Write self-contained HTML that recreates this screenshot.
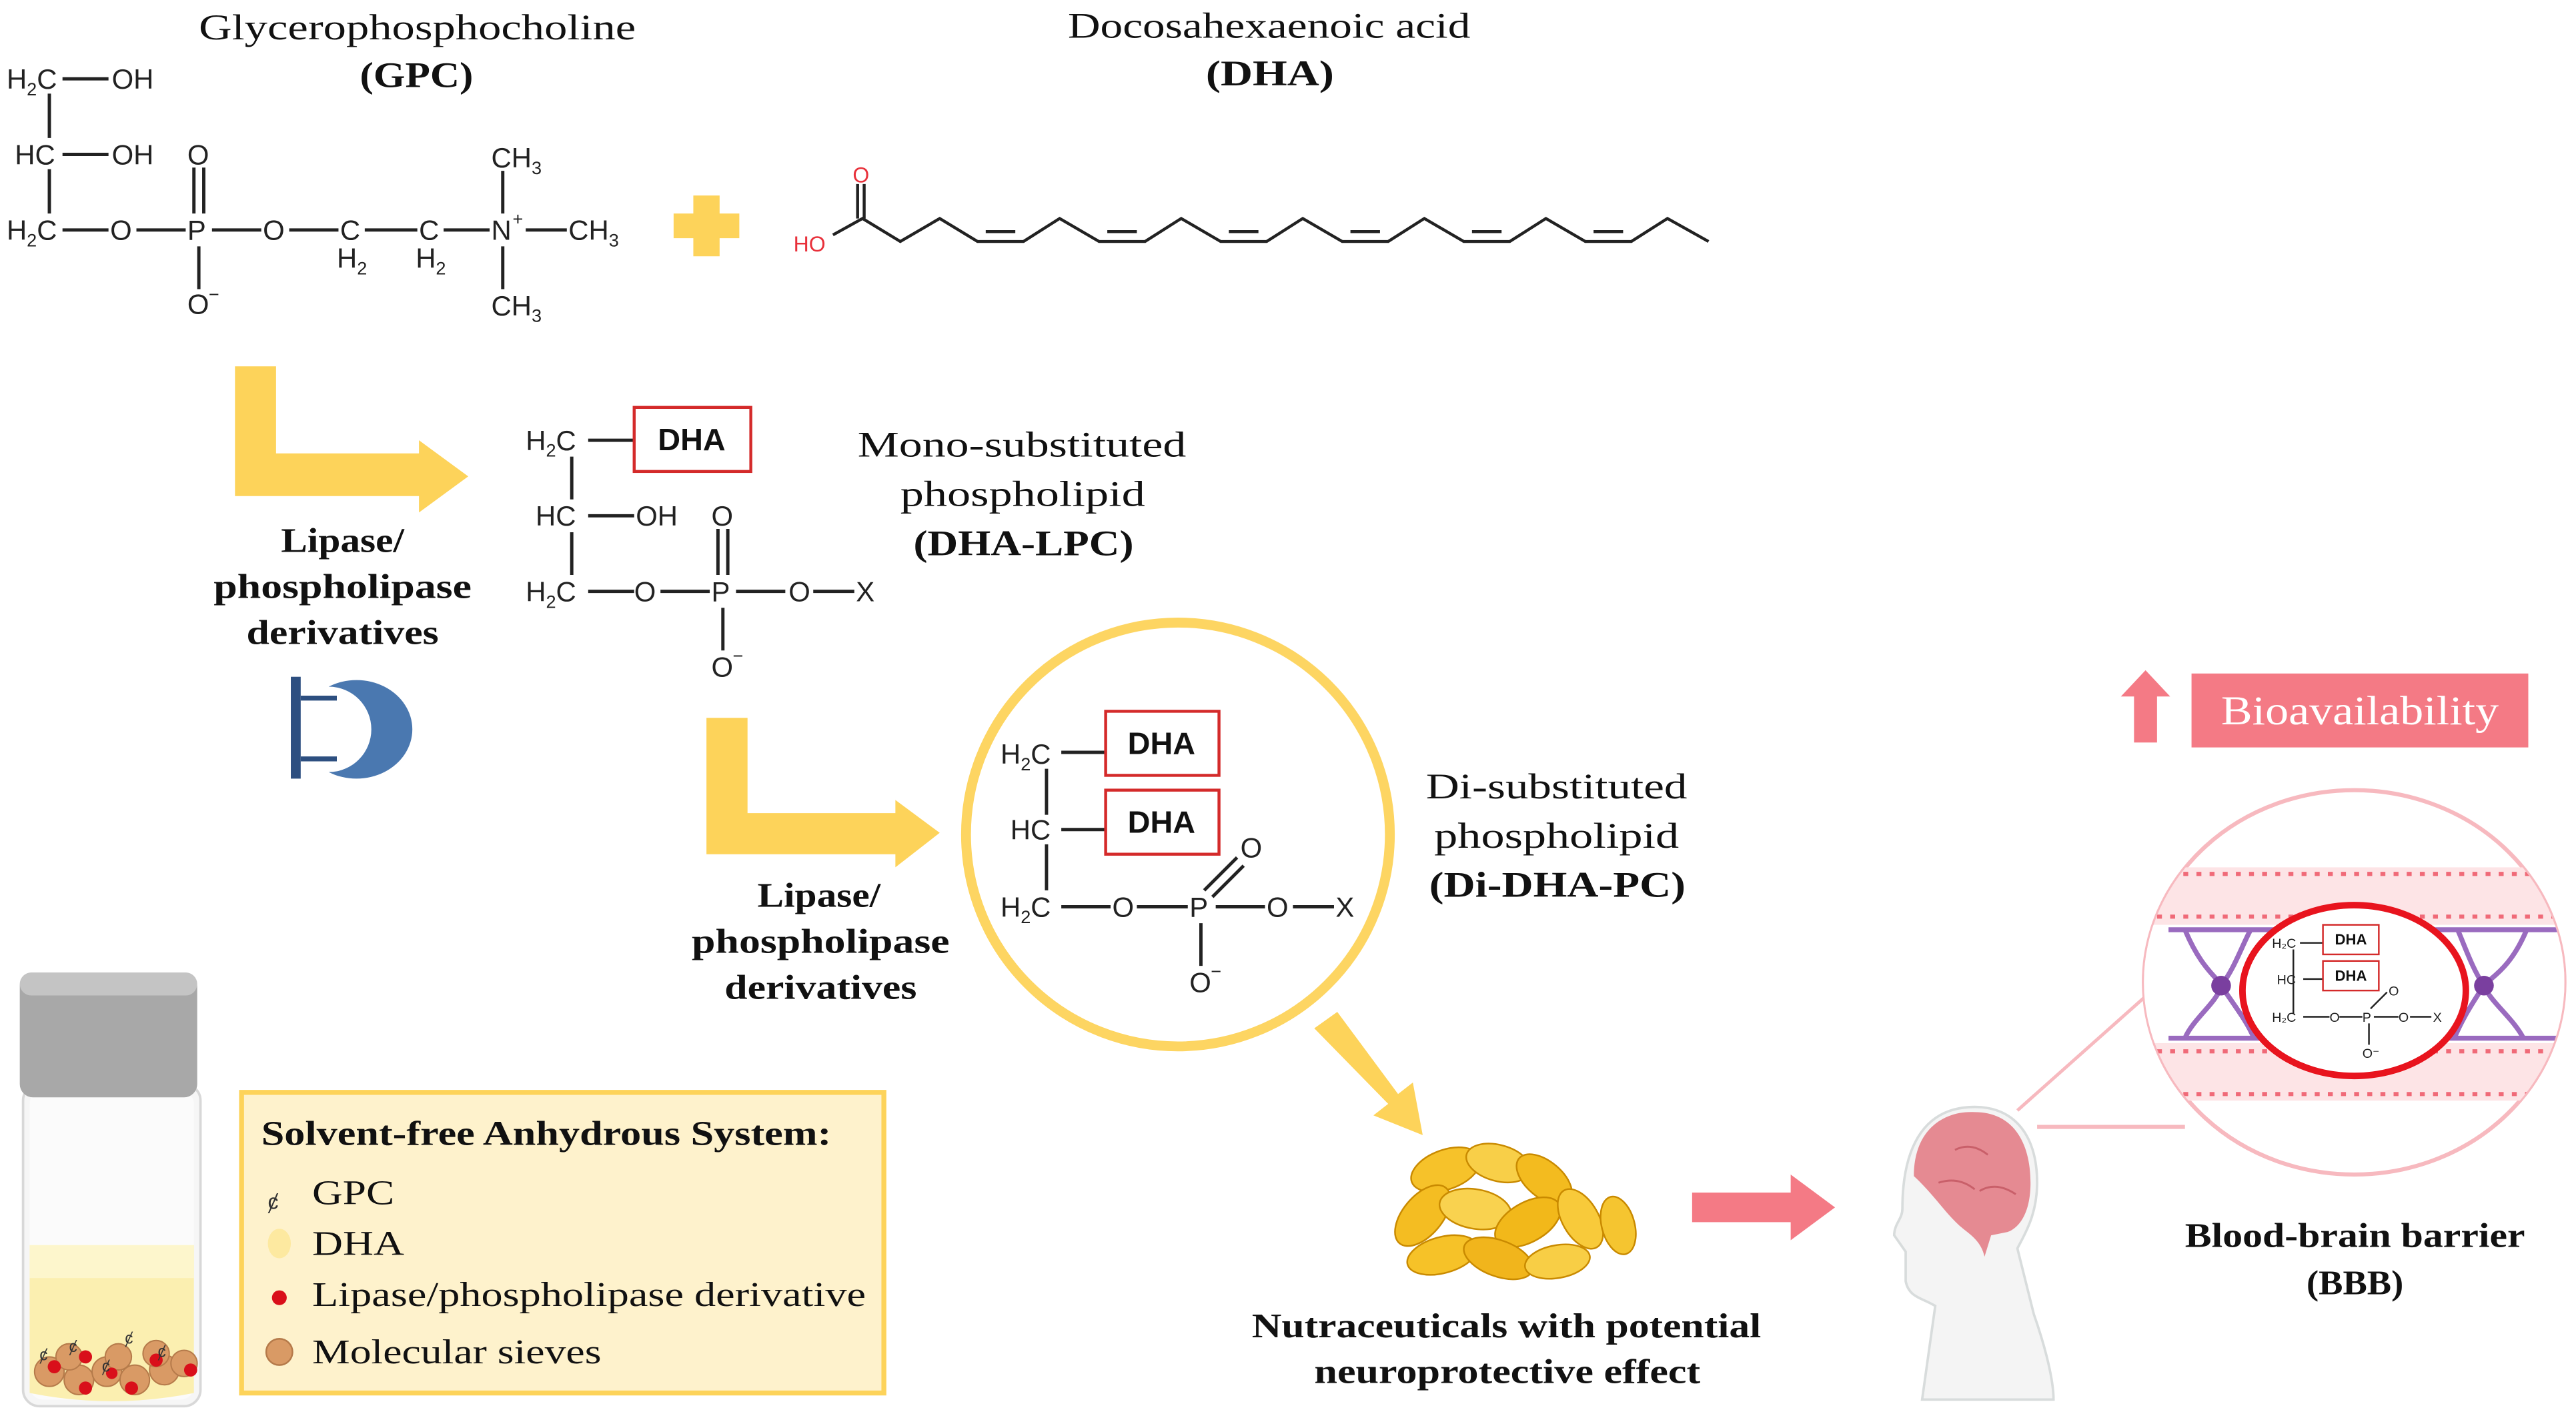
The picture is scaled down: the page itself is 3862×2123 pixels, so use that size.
<!DOCTYPE html>
<html><head><meta charset="utf-8"><style>
html,body{margin:0;padding:0;background:#fff;}
svg{display:block;}
.s{font-family:"Liberation Sans",sans-serif;fill:#222;}
.t{font-family:"Liberation Serif",serif;fill:#111;}
</style></head><body>
<svg width="3862" height="2123" viewBox="0 0 1568 862" xmlns="http://www.w3.org/2000/svg">
<rect width="1568" height="862" fill="#fff"/>

<!-- Titles -->
<g class="t" font-size="22" lengthAdjust="spacingAndGlyphs">
<text x="121" y="24" textLength="266" lengthAdjust="spacingAndGlyphs">Glycerophosphocholine</text>
<text x="219" y="53" font-weight="bold" textLength="69" lengthAdjust="spacingAndGlyphs">(GPC)</text>
<text x="650" y="23" textLength="245" lengthAdjust="spacingAndGlyphs">Docosahexaenoic acid</text>
<text x="734" y="52" font-weight="bold" textLength="78" lengthAdjust="spacingAndGlyphs">(DHA)</text>
</g>

<!-- GPC structure -->
<g stroke="#222" stroke-width="2" fill="none">
<line x1="38" y1="48" x2="66" y2="48"/>
<line x1="30" y1="57" x2="30" y2="84"/>
<line x1="38" y1="94" x2="66" y2="94"/>
<line x1="30" y1="103" x2="30" y2="130"/>
<line x1="38" y1="140" x2="66" y2="140"/>
<line x1="83" y1="140" x2="113" y2="140"/>
<line x1="129" y1="140" x2="159" y2="140"/>
<line x1="176" y1="140" x2="206" y2="140"/>
<line x1="222" y1="140" x2="254" y2="140"/>
<line x1="270" y1="140" x2="298" y2="140"/>
<line x1="320" y1="140" x2="345" y2="140"/>
<line x1="118" y1="102" x2="118" y2="130"/>
<line x1="124" y1="102" x2="124" y2="130"/>
<line x1="121" y1="150" x2="121" y2="176"/>
<line x1="306" y1="104" x2="306" y2="130"/>
<line x1="306" y1="150" x2="306" y2="176"/>
</g>
<g class="s" font-size="17">
<text x="4" y="54">H<tspan font-size="11" dy="4">2</tspan><tspan dy="-4">C</tspan></text>
<text x="68" y="54">OH</text>
<text x="9" y="100">HC</text>
<text x="68" y="100">OH</text>
<text x="4" y="146">H<tspan font-size="11" dy="4">2</tspan><tspan dy="-4">C</tspan></text>
<text x="67" y="146">O</text>
<text x="114" y="146">P</text>
<text x="114" y="100">O</text>
<text x="114" y="191">O</text><text x="127" y="183" font-size="11">−</text>
<text x="160" y="146">O</text>
<text x="207" y="146">C</text>
<text x="205" y="163">H<tspan font-size="11" dy="4">2</tspan></text>
<text x="255" y="146">C</text>
<text x="253" y="163">H<tspan font-size="11" dy="4">2</tspan></text>
<text x="299" y="146">N</text><text x="312" y="137" font-size="11">+</text>
<text x="346" y="146">CH<tspan font-size="11" dy="4">3</tspan></text>
<text x="299" y="102">CH<tspan font-size="11" dy="4">3</tspan></text>
<text x="299" y="192">CH<tspan font-size="11" dy="4">3</tspan></text>
</g>

<!-- plus -->
<path d="M422 119 h16 v11 h12 v15 h-12 v11 h-16 v-11 h-12 v-15 h12 z" fill="#fdd35a"/>

<!-- DHA chain -->
<g stroke="#222" stroke-width="1.8" fill="none">
<polyline points="507,143 525,133 548,147 572,133 595,147 623,147 645,133 669,147 697,147 719,133 743,147 771,147 793,133 817,147 845,147 867,133 891,147 919,147 941,133 965,147 993,147 1015,133 1040,147"/>
<line x1="522" y1="112" x2="522" y2="133"/>
<line x1="526" y1="112" x2="526" y2="133"/>
<line x1="600" y1="141" x2="618" y2="141"/>
<line x1="674" y1="141" x2="692" y2="141"/>
<line x1="748" y1="141" x2="766" y2="141"/>
<line x1="822" y1="141" x2="840" y2="141"/>
<line x1="896" y1="141" x2="914" y2="141"/>
<line x1="970" y1="141" x2="988" y2="141"/>
</g>
<text x="483" y="153" class="s" font-size="13" style="fill:#e8303a">HO</text>
<text x="519" y="111" class="s" font-size="13" style="fill:#e8303a">O</text>

<!-- Arrow 1 -->
<path d="M143 223 h25 v53 h87 v-8 l30 22 l-30 22 v-10 h-112 z" fill="#fdd35a"/>
<g class="t" font-size="21" font-weight="bold">
<text x="171" y="336" textLength="75" lengthAdjust="spacingAndGlyphs">Lipase/</text>
<text x="130" y="364" textLength="157" lengthAdjust="spacingAndGlyphs">phospholipase</text>
<text x="150" y="392" textLength="117" lengthAdjust="spacingAndGlyphs">derivatives</text>
</g>
<!-- enzyme icon -->
<g>
<path d="M200 418 a34 30 0 1 1 0 52 a22 22 0 1 0 0 -52 z" fill="#4a78b0"/>
<rect x="177" y="412" width="6" height="62" fill="#2d4f80"/>
<line x1="183" y1="425" x2="205" y2="425" stroke="#2d4f80" stroke-width="3"/>
<line x1="183" y1="462" x2="205" y2="462" stroke="#2d4f80" stroke-width="3"/>
</g>

<!-- Mono-substituted -->
<g stroke="#222" stroke-width="2" fill="none">
<line x1="358" y1="268" x2="386" y2="268"/>
<line x1="348" y1="278" x2="348" y2="304"/>
<line x1="358" y1="314" x2="386" y2="314"/>
<line x1="348" y1="324" x2="348" y2="350"/>
<line x1="358" y1="360" x2="386" y2="360"/>
<line x1="402" y1="360" x2="432" y2="360"/>
<line x1="448" y1="360" x2="478" y2="360"/>
<line x1="495" y1="360" x2="520" y2="360"/>
<line x1="437" y1="322" x2="437" y2="350"/>
<line x1="443" y1="322" x2="443" y2="350"/>
<line x1="440" y1="370" x2="440" y2="396"/>
</g>
<rect x="386" y="248" width="71" height="39" fill="#fff" stroke="#d42a2a" stroke-width="1.8"/>
<text x="421" y="274" class="s" font-size="19" font-weight="bold" text-anchor="middle" style="fill:#111">DHA</text>
<g class="s" font-size="17">
<text x="320" y="274">H<tspan font-size="11" dy="4">2</tspan><tspan dy="-4">C</tspan></text>
<text x="326" y="320">HC</text>
<text x="387" y="320">OH</text>
<text x="320" y="366">H<tspan font-size="11" dy="4">2</tspan><tspan dy="-4">C</tspan></text>
<text x="386" y="366">O</text>
<text x="433" y="366">P</text>
<text x="433" y="320">O</text>
<text x="480" y="366">O</text>
<text x="521" y="366">X</text>
<text x="433" y="412">O</text><text x="446" y="403" font-size="11">−</text>
</g>
<g class="t" font-size="22">
<text x="522" y="278" textLength="200" lengthAdjust="spacingAndGlyphs">Mono-substituted</text>
<text x="548" y="308" textLength="149" lengthAdjust="spacingAndGlyphs">phospholipid</text>
<text x="556" y="338" font-weight="bold" textLength="134" lengthAdjust="spacingAndGlyphs">(DHA-LPC)</text>
</g>

<!-- Arrow 2 -->
<path d="M430 437 h25 v58 h90 v-8 l27 20 l-27 21 v-8 h-115 z" fill="#fdd35a"/>
<g class="t" font-size="21" font-weight="bold">
<text x="461" y="552" textLength="75" lengthAdjust="spacingAndGlyphs">Lipase/</text>
<text x="421" y="580" textLength="157" lengthAdjust="spacingAndGlyphs">phospholipase</text>
<text x="441" y="608" textLength="117" lengthAdjust="spacingAndGlyphs">derivatives</text>
</g>

<!-- Circle Di-DHA -->
<circle cx="717" cy="508" r="129" fill="#fff" stroke="#fdd35a" stroke-width="6" opacity="0.95"/>
<g stroke="#222" stroke-width="2" fill="none">
<line x1="646" y1="458" x2="673" y2="458"/>
<line x1="637" y1="468" x2="637" y2="496"/>
<line x1="646" y1="505" x2="673" y2="505"/>
<line x1="637" y1="514" x2="637" y2="542"/>
<line x1="646" y1="552" x2="676" y2="552"/>
<line x1="692" y1="552" x2="723" y2="552"/>
<line x1="740" y1="552" x2="770" y2="552"/>
<line x1="787" y1="552" x2="812" y2="552"/>
<line x1="733" y1="542" x2="753" y2="522"/>
<line x1="738" y1="546" x2="757" y2="527"/>
<line x1="731" y1="562" x2="731" y2="588"/>
</g>
<rect x="673" y="433" width="69" height="39" fill="#fff" stroke="#d42a2a" stroke-width="1.8"/>
<rect x="673" y="481" width="69" height="39" fill="#fff" stroke="#d42a2a" stroke-width="1.8"/>
<g class="s" font-size="19" font-weight="bold" text-anchor="middle" style="fill:#111">
<text x="707" y="459">DHA</text><text x="707" y="507">DHA</text>
</g>
<g class="s" font-size="17">
<text x="609" y="465">H<tspan font-size="11" dy="4">2</tspan><tspan dy="-4">C</tspan></text>
<text x="615" y="511">HC</text>
<text x="609" y="558">H<tspan font-size="11" dy="4">2</tspan><tspan dy="-4">C</tspan></text>
<text x="677" y="558">O</text>
<text x="724" y="558">P</text>
<text x="755" y="522">O</text>
<text x="771" y="558">O</text>
<text x="813" y="558">X</text>
<text x="724" y="604">O</text><text x="737" y="595" font-size="11">−</text>
</g>
<g class="t" font-size="22">
<text x="868" y="486" textLength="159" lengthAdjust="spacingAndGlyphs">Di-substituted</text>
<text x="873" y="516" textLength="149" lengthAdjust="spacingAndGlyphs">phospholipid</text>
<text x="870" y="546" font-weight="bold" textLength="156" lengthAdjust="spacingAndGlyphs">(Di-DHA-PC)</text>
</g>

<!-- diagonal arrow -->
<path d="M800 626 l14 -10 l37 50 l9 -7 l6 32 l-30 -12 l9 -7 z" fill="#fdd35a"/>

<!-- capsules -->
<g stroke="#c98a00" stroke-width="1">
<ellipse cx="880" cy="712" rx="22" ry="12" fill="#f6c22a" transform="rotate(-20 880 712)"/>
<ellipse cx="912" cy="708" rx="20" ry="11" fill="#f8cf48" transform="rotate(15 912 708)"/>
<ellipse cx="940" cy="718" rx="20" ry="11" fill="#f3bb1f" transform="rotate(40 940 718)"/>
<ellipse cx="866" cy="740" rx="22" ry="12" fill="#f4bd22" transform="rotate(-50 866 740)"/>
<ellipse cx="898" cy="736" rx="22" ry="12" fill="#f9d24f" transform="rotate(10 898 736)"/>
<ellipse cx="930" cy="744" rx="22" ry="12" fill="#f2b81a" transform="rotate(-30 930 744)"/>
<ellipse cx="962" cy="742" rx="20" ry="11" fill="#f8ca3a" transform="rotate(60 962 742)"/>
<ellipse cx="985" cy="746" rx="18" ry="10" fill="#f5c530" transform="rotate(75 985 746)"/>
<ellipse cx="878" cy="764" rx="22" ry="11" fill="#f6c228" transform="rotate(-15 878 764)"/>
<ellipse cx="912" cy="766" rx="22" ry="11" fill="#f1b51c" transform="rotate(20 912 766)"/>
<ellipse cx="948" cy="768" rx="20" ry="10" fill="#f8ce45" transform="rotate(-10 948 768)"/>
</g>
<g class="t" font-size="21" font-weight="bold">
<text x="762" y="814" textLength="310" lengthAdjust="spacingAndGlyphs">Nutraceuticals with potential</text>
<text x="800" y="842" textLength="235" lengthAdjust="spacingAndGlyphs">neuroprotective effect</text>
</g>

<!-- pink arrow -->
<path d="M1030 726 h60 v-11 l27 20 l-27 20 v-11 h-60 z" fill="#f47a85"/>

<!-- head -->
<path d="M1198 674 C1225 672 1240 690 1240 720 C1240 740 1232 752 1228 760 L1238 800 C1245 820 1250 840 1250 852 L1170 852 L1178 795 C1170 790 1162 790 1160 780 L1160 762 L1153 752 C1153 745 1158 742 1158 736 C1158 700 1170 676 1198 674 Z" fill="#f4f4f4" stroke="#d8dcdc" stroke-width="1.5"/>
<path d="M1165 716 C1165 686 1185 676 1202 677 C1225 677 1236 695 1236 720 C1236 740 1228 748 1222 750 L1212 752 L1208 765 C1206 756 1200 752 1195 748 C1185 740 1178 728 1165 716 Z" fill="#e58a92"/>
<path d="M1190 700 q10 -5 20 3 M1180 720 q12 -4 22 4 M1205 725 q10 -6 22 2" stroke="#c9606a" stroke-width="1.2" fill="none"/>

<!-- BBB zoom lines -->
<line x1="1228" y1="676" x2="1310" y2="603" stroke="#f7b9bf" stroke-width="2"/>
<line x1="1240" y1="686" x2="1330" y2="686" stroke="#f7b9bf" stroke-width="2.5"/>

<!-- BBB circle -->
<defs><clipPath id="bc"><ellipse cx="1433" cy="598" rx="128" ry="117"/></clipPath></defs>
<ellipse cx="1433" cy="598" rx="128" ry="117" fill="#fff" stroke="#f7b9bf" stroke-width="2.5"/>
<g clip-path="url(#bc)">
<rect x="1305" y="528" width="256" height="142" fill="#fde4e6"/>
<rect x="1305" y="563" width="256" height="72" fill="#fff"/>
<g stroke="#f06a78" stroke-width="2.5" stroke-dasharray="3 5">
<line x1="1305" y1="532" x2="1561" y2="532"/>
<line x1="1305" y1="558" x2="1561" y2="558"/>
<line x1="1305" y1="640" x2="1561" y2="640"/>
<line x1="1305" y1="666" x2="1561" y2="666"/>
</g>
<g stroke="#9a6bbf" stroke-width="3" fill="none">
<line x1="1320" y1="566" x2="1560" y2="566"/>
<line x1="1320" y1="632" x2="1560" y2="632"/>
<path d="M1330 566 C1340 590 1350 595 1352 600 C1350 610 1335 620 1330 632 M1352 600 C1360 590 1365 575 1370 566 M1352 600 C1360 612 1368 622 1372 632"/>
<path d="M1538 566 C1528 590 1516 595 1512 600 C1516 610 1530 620 1536 632 M1512 600 C1505 590 1500 575 1496 566 M1512 600 C1504 612 1498 622 1494 632"/>
</g>
<circle cx="1352" cy="600" r="6" fill="#7a3f9f"/>
<circle cx="1512" cy="600" r="6" fill="#7a3f9f"/>
</g>
<ellipse cx="1433" cy="603" rx="68" ry="52" fill="#fff" stroke="#e8141e" stroke-width="4"/>
<g stroke="#222" stroke-width="1" fill="none">
<line x1="1400" y1="574" x2="1414" y2="574"/>
<line x1="1396" y1="578" x2="1396" y2="617"/>
<line x1="1402" y1="596" x2="1414" y2="596"/>
<line x1="1402" y1="619" x2="1418" y2="619"/>
<line x1="1424" y1="619" x2="1438" y2="619"/>
<line x1="1445" y1="619" x2="1460" y2="619"/>
<line x1="1467" y1="619" x2="1480" y2="619"/>
<line x1="1443" y1="614" x2="1453" y2="604"/>
<line x1="1442" y1="623" x2="1442" y2="636"/>
</g>
<rect x="1414" y="563" width="34" height="18" fill="#fff" stroke="#d42a2a" stroke-width="1"/>
<rect x="1414" y="585" width="34" height="18" fill="#fff" stroke="#d42a2a" stroke-width="1"/>
<g class="s" font-size="9" font-weight="bold" text-anchor="middle" style="fill:#111">
<text x="1431" y="575">DHA</text><text x="1431" y="597">DHA</text>
</g>
<g class="s" font-size="8">
<text x="1383" y="577">H₂C</text><text x="1386" y="599">HC</text><text x="1383" y="622">H₂C</text>
<text x="1418" y="622">O</text><text x="1438" y="622">P</text><text x="1454" y="606">O</text>
<text x="1460" y="622">O</text><text x="1481" y="622">X</text><text x="1438" y="644">O⁻</text>
</g>

<!-- Bioavailability -->
<path d="M1306 408 l15 16 h-8 v28 h-14 v-28 h-8 z" fill="#f47a85"/>
<rect x="1334" y="410" width="205" height="45" fill="#f47a85"/>
<text x="1352" y="441" class="t" font-size="25" textLength="169" lengthAdjust="spacingAndGlyphs" style="fill:#fff">Bioavailability</text>

<g class="t" font-size="21" font-weight="bold">
<text x="1330" y="759" textLength="207" lengthAdjust="spacingAndGlyphs">Blood-brain barrier</text>
<text x="1404" y="788" textLength="59" lengthAdjust="spacingAndGlyphs">(BBB)</text>
</g>

<!-- Vial -->
<rect x="14" y="660" width="108" height="196" rx="10" fill="#f6f6f6" stroke="#d8d8d8" stroke-width="1.5"/>
<rect x="18" y="664" width="100" height="188" rx="8" fill="#fbfbfb"/>
<path d="M18 758 h100 v90 q-50 10 -100 0 z" fill="#fbefb0"/>
<rect x="18" y="758" width="100" height="20" fill="#fdf6cc"/>
<rect x="12" y="592" width="108" height="76" rx="8" fill="#a8a8a8"/>
<rect x="12" y="592" width="108" height="14" rx="7" fill="#c4c4c4"/>
<g fill="#d99a65" stroke="#b57a4a" stroke-width="0.8">
<circle cx="30" cy="835" r="9"/><circle cx="48" cy="840" r="9"/><circle cx="65" cy="835" r="9"/><circle cx="82" cy="840" r="9"/><circle cx="100" cy="834" r="9"/><circle cx="112" cy="830" r="8"/><circle cx="42" cy="826" r="8"/><circle cx="72" cy="826" r="8"/><circle cx="95" cy="824" r="8"/>
</g>
<g fill="#d90f1a">
<circle cx="33" cy="832" r="4"/><circle cx="52" cy="845" r="4"/><circle cx="52" cy="826" r="4"/><circle cx="80" cy="845" r="4"/><circle cx="95" cy="828" r="4"/><circle cx="116" cy="834" r="4"/><circle cx="68" cy="836" r="3.5"/>
</g>
<g class="s" font-size="10" style="fill:#333">
<text x="24" y="828">ȼ</text><text x="42" y="823">ȼ</text><text x="76" y="818">ȼ</text><text x="62" y="835">ȼ</text><text x="96" y="826">ȼ</text>
</g>

<!-- Legend box -->
<rect x="147" y="665" width="391" height="183" fill="#fef2cc" stroke="#fdd35a" stroke-width="3"/>
<g class="t" font-size="21">
<text x="159" y="697" font-weight="bold" textLength="347" lengthAdjust="spacingAndGlyphs">Solvent-free Anhydrous System:</text>
<text x="190" y="733" textLength="50" lengthAdjust="spacingAndGlyphs">GPC</text>
<text x="190" y="764" textLength="56" lengthAdjust="spacingAndGlyphs">DHA</text>
<text x="190" y="795" textLength="337" lengthAdjust="spacingAndGlyphs">Lipase/phospholipase derivative</text>
<text x="190" y="830" textLength="176" lengthAdjust="spacingAndGlyphs">Molecular sieves</text>
</g>
<text x="163" y="736" class="s" font-size="13" style="fill:#333">ȼ</text>
<ellipse cx="170" cy="757" rx="7" ry="9" fill="#fde9a0"/>
<circle cx="170" cy="790" r="4.5" fill="#d90f1a"/>
<circle cx="170" cy="823" r="8" fill="#d99a65" stroke="#b57a4a" stroke-width="1"/>
</svg>
</body></html>
